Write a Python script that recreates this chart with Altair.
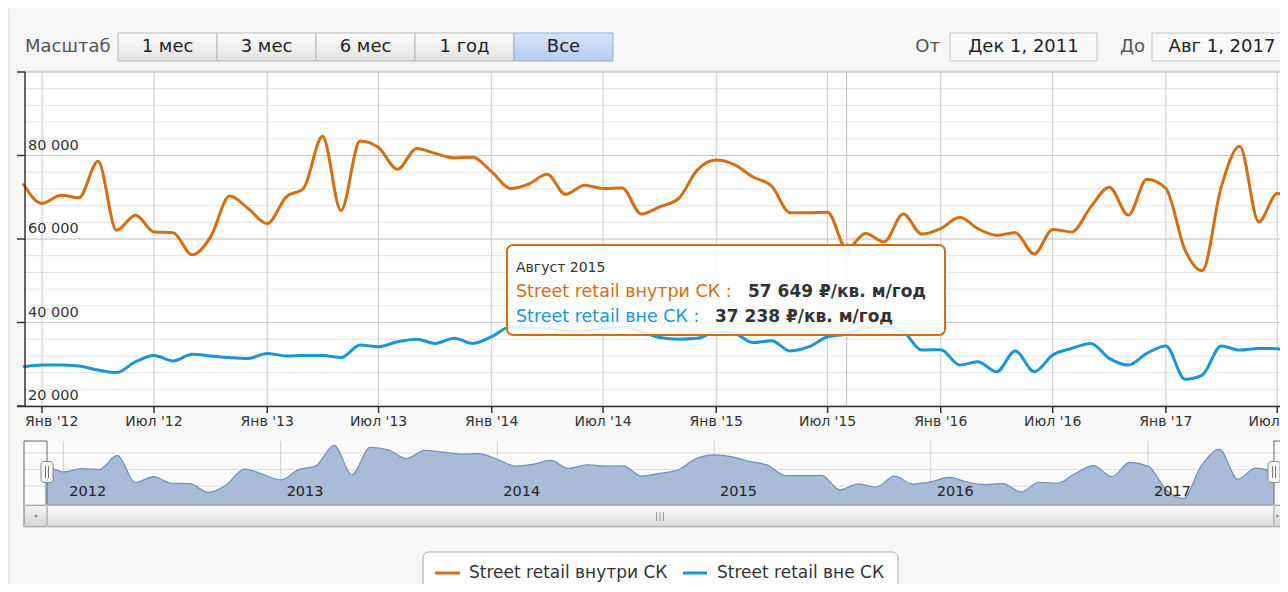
import altair as alt
import pandas as pd

# ---------------- data ----------------
series_names = ["Street retail внутри СК", "Street retail вне СК"]
months = pd.date_range("2011-12-01", "2017-08-01", freq="MS").strftime("%Y-%m-%d").tolist()

inside_sk = [73300, 68500, 70500, 69900, 78600, 62100, 65700, 61700, 61500, 56200,
             60500, 70300, 67300, 63700, 70100, 72100, 84600, 66800, 83500, 81900,
             76700, 81700, 80500, 79400, 79600, 76100, 72100, 73100, 75500, 70700,
             72900, 72100, 72200, 66000, 67700, 69700, 76500, 78900, 77700, 74900,
             72700, 66300, 66300, 66400, 57649, 61300, 59300, 66000, 61200, 62500,
             65200, 62500, 60900, 61500, 56400, 62300, 61700, 67700, 72400, 65700,
             74300, 72100, 57400, 52400, 72500, 82200, 64100, 70900, 68500]

outside_sk = [29400, 29800, 29800, 29600, 28600, 28000, 30600, 32100, 30800, 32400,
              32000, 31600, 31400, 32600, 32000, 32100, 32100, 31600, 34600, 34200,
              35400, 36000, 35000, 36200, 35000, 36600, 39000, 38600, 38600, 38000,
              38000, 38600, 39000, 37800, 36400, 36000, 36200, 37800, 37300, 35200,
              35600, 33200, 34200, 36600, 37238, 38700, 39000, 37800, 33400, 33500,
              29800, 30600, 28200, 33200, 28200, 32200, 33800, 35000, 31400, 29800,
              32600, 34400, 26400, 27400, 34400, 33400, 33800, 33700, 31500]

x_tick_dates = ["2012-01-01", "2012-07-01", "2013-01-01", "2013-07-01", "2014-01-01", "2014-07-01",
                "2015-01-01", "2015-07-01", "2016-01-01", "2016-07-01", "2017-01-01", "2017-07-01"]
x_tick_labels = ["Янв '12", "Июл '12", "Янв '13", "Июл '13", "Янв '14", "Июл '14",
                 "Янв '15", "Июл '15", "Янв '16", "Июл '16", "Янв '17", "Июл '17"]
y_tick_values = [20000, 40000, 60000, 80000]
y_tick_labels = ["20 000", "40 000", "60 000", "80 000"]
nav_years = ["2012", "2013", "2014", "2015", "2016", "2017"]
nav_grid_values = [60000, 70000, 80000]
range_buttons = ["1 мес", "3 мес", "6 мес", "1 год", "Все"]
selected_button = "Все"
date_from, date_to = "Дек 1, 2011", "Авг 1, 2017"
hover_index = 44
hover_label = "Август 2015"
unit = "₽/кв. м/год"

# ---------------- style ----------------
ORANGE = "#d36f12"
BLUE = "#1a96d6"
BG = "#f7f7f7"
TXT = "#333333"
FONT = "DejaVu Sans"
UI = 18
W, H = 1272, 576   # whole chart: page x 8..1280, page y 8..584

def P(x):  # page x -> chart x
    return x - 8

def Q(y):  # page y -> chart y
    return y - 8

ONE = pd.DataFrame({"k": [0]})

def box(x0, x1, y0, y1, **kw):
    return alt.Chart(ONE).mark_rect(**kw).encode(
        x=alt.value(P(x0)), x2=alt.value(P(x1)), y=alt.value(Q(y0)), y2=alt.value(Q(y1)))

def hline(x0, x1, y, color, w=1):
    return alt.Chart(ONE).mark_rule(color=color, strokeWidth=w).encode(
        x=alt.value(P(x0)), x2=alt.value(P(x1)), y=alt.value(Q(y)))

def vline(x, y0, y1, color, w=1):
    return alt.Chart(ONE).mark_rule(color=color, strokeWidth=w).encode(
        x=alt.value(P(x)), y=alt.value(Q(y0)), y2=alt.value(Q(y1)))

def label(x, y, text, size=15, color=TXT, align="left", weight="normal", font=FONT):
    return alt.Chart(ONE).mark_text(text=text, fontSize=size, color=color, align=align,
                                    baseline="middle", fontWeight=weight, font=font).encode(
        x=alt.value(P(x)), y=alt.value(Q(y)))

def vgrad(c0, c1):
    return alt.Gradient(gradient="linear", x1=0, x2=0, y1=0, y2=1,
                        stops=[alt.GradientStop(color=c0, offset=0), alt.GradientStop(color=c1, offset=1)])

NAV_MIN, NAV_MAX = 48500, 87300
# main plot: Dec 1 2011 sits at page x 23; the chart's right edge (page 1280) is ~Jul 5 2017
DOM_MAIN = [alt.DateTime(year=2011, month=12, date=1, utc=True),
            alt.DateTime(year=2017, month=7, date=5, hours=12, utc=True)]
DOM_NAV = [alt.DateTime(year=2011, month=12, date=1, utc=True),
           alt.DateTime(year=2017, month=8, date=1, utc=True)]
X_MAIN = alt.Scale(type="utc", domain=DOM_MAIN, range=[P(23.0), P(1280)])
Y_MAIN = alt.Scale(domain=[20000, 100000], range=[Q(406), Q(72)], zero=False, nice=False)
X_NAV = alt.Scale(type="utc", domain=DOM_NAV, range=[P(44.9), P(1274)])
Y_NAV = alt.Scale(domain=[NAV_MIN, NAV_MAX], range=[Q(505), Q(441)], zero=False, nice=False)

df = pd.DataFrame({
    "date": months * 2,
    "value": inside_sk + outside_sk,
    "series": [series_names[0]] * len(months) + [series_names[1]] * len(months),
})
df_in = pd.DataFrame({"date": months, "value": inside_sk, "base": NAV_MIN})
xt = pd.DataFrame({"date": x_tick_dates, "label": x_tick_labels})
yt = pd.DataFrame({"value": y_tick_values, "label": y_tick_labels})
ymaj = pd.DataFrame({"value": y_tick_values + [100000]})
ymin = pd.DataFrame({"value": list(range(20000, 100001, 4000))})
navy = pd.DataFrame({"value": nav_grid_values})
navx = pd.DataFrame({"date": [f"{y}-01-01" for y in nav_years], "label": nav_years})
hover = pd.DataFrame({"date": [months[hover_index]], "value": [inside_sk[hover_index]]})

XM = lambda: alt.X("date:T", scale=X_MAIN, axis=None)
XN = lambda: alt.X("date:T", scale=X_NAV, axis=None)

layers = []

# container border
layers.append(vline(9, 9, 600, "#d8d8d8"))

# ---------------- range selector ----------------
layers.append(label(25, 47, "Масштаб", size=UI, color="#555555"))
for i, b in enumerate(range_buttons):
    x0 = 118 + 99 * i
    sel = b == selected_button
    layers.append(box(x0, x0 + 99, 33, 61,
                      fill=vgrad("#d6e5f9", "#b3ccee") if sel else vgrad("#fdfdfd", "#e2e2e2"),
                      stroke="#8eb0df" if sel else "#b7b7b7", strokeWidth=1))
    layers.append(label(x0 + 49.5, 47, b, size=UI, color="#222222", align="center"))
layers.append(label(940, 47, "От", size=UI, color="#555555", align="right"))
layers.append(box(950, 1097, 33, 61, fill="#f9f9f9", stroke="#c4c4c4", strokeWidth=1))
layers.append(label(1023.5, 47, date_from, size=UI, color="#222222", align="center"))
layers.append(label(1145, 47, "До", size=UI, color="#555555", align="right"))
layers.append(box(1152, 1300, 33, 61, fill="#f9f9f9", stroke="#c4c4c4", strokeWidth=1))
layers.append(label(1222, 47, date_to, size=UI, color="#222222", align="center"))

# ---------------- main plot ----------------
layers.append(box(24, 1300, 72, 406, fill="#ffffff"))
layers.append(alt.Chart(ymin).mark_rule(color="#e4e4e4", strokeWidth=1).encode(
    y=alt.Y("value:Q", scale=Y_MAIN, axis=None), x=alt.value(P(25)), x2=alt.value(P(1300))))
layers.append(alt.Chart(ymaj).mark_rule(color="#c9c9c9", strokeWidth=1).encode(
    y=alt.Y("value:Q", scale=Y_MAIN, axis=None), x=alt.value(P(25)), x2=alt.value(P(1300))))
layers.append(alt.Chart(xt).mark_rule(color="#c9c9c9", strokeWidth=1).encode(
    x=XM(), y=alt.value(Q(72)), y2=alt.value(Q(406))))
layers.append(hline(24, 1300, 71.5, "#d2d2d2", 2))
# crosshair
layers.append(alt.Chart(hover).mark_rule(color="#bdbdbd", strokeWidth=1).encode(
    x=XM(), y=alt.value(Q(72)), y2=alt.value(Q(406))))
# series
layers.append(alt.Chart(df).mark_line(strokeWidth=3, interpolate="monotone").encode(
    x=XM(), y=alt.Y("value:Q", scale=Y_MAIN, axis=None),
    color=alt.Color("series:N", scale=alt.Scale(domain=series_names, range=[ORANGE, BLUE]), legend=None),
    detail="series:N"))
layers.append(alt.Chart(hover).mark_circle(size=150, color=ORANGE, opacity=0.28).encode(
    x=XM(), y=alt.Y("value:Q", scale=Y_MAIN, axis=None)))
# axes
layers.append(vline(25, 72, 406, "#333333", 1.5))
layers.append(alt.Chart(ymaj).mark_rule(color="#333333", strokeWidth=1.5).encode(
    y=alt.Y("value:Q", scale=Y_MAIN, axis=None), x=alt.value(P(17)), x2=alt.value(P(25))))
layers.append(hline(17, 1300, 406.5, "#333333", 1.5))
layers.append(alt.Chart(xt).mark_rule(color="#333333", strokeWidth=1.5).encode(
    x=XM(), y=alt.value(Q(406)), y2=alt.value(Q(413))))
layers.append(alt.Chart(yt).mark_text(font=FONT, fontSize=14.5, color=TXT, align="left",
                                      baseline="middle", dy=-10).encode(
    y=alt.Y("value:Q", scale=Y_MAIN, axis=None), x=alt.value(P(28)), text="label:N"))
layers.append(alt.Chart(xt.iloc[:1]).mark_text(font=FONT, fontSize=14, color=TXT, align="left",
                                               baseline="middle", dx=-17).encode(
    x=XM(), y=alt.value(Q(421.5)), text="label:N"))
layers.append(alt.Chart(xt.iloc[1:]).mark_text(font=FONT, fontSize=14, color=TXT, align="center",
                                               baseline="middle").encode(
    x=XM(), y=alt.value(Q(421.5)), text="label:N"))

# ---------------- tooltip ----------------
fmt = lambda v: f"{v:,}".replace(",", " ")
layers.append(box(507, 945, 245, 335, fill="#ffffff", fillOpacity=0.88, stroke=ORANGE,
                  strokeWidth=2, cornerRadius=6))
layers.append(label(516, 268, hover_label, size=14, color=TXT))
layers.append(label(516, 292, series_names[0] + " :", size=17.5, color=ORANGE))
layers.append(label(748, 292, f"{fmt(inside_sk[hover_index])} {unit}", size=17, color=TXT, weight="bold"))
layers.append(label(516, 317, series_names[1] + " :", size=17.5, color=BLUE))
layers.append(label(715, 317, f"{fmt(outside_sk[hover_index])} {unit}", size=17, color=TXT, weight="bold"))

# ---------------- navigator ----------------
layers.append(box(24, 1300, 441, 505, fill="#fbfbfb"))
layers.append(alt.Chart(navy).mark_rule(color="#dedede", strokeWidth=1).encode(
    y=alt.Y("value:Q", scale=Y_NAV, axis=None), x=alt.value(P(24)), x2=alt.value(P(1300))))
layers.append(alt.Chart(navx).mark_rule(color="#cfcfcf", strokeWidth=1).encode(
    x=XN(), y=alt.value(Q(441)), y2=alt.value(Q(505))))
layers.append(alt.Chart(df_in).mark_area(interpolate="monotone", color="#a9bcd7", opacity=1).encode(
    x=XN(), y=alt.Y("value:Q", scale=Y_NAV, axis=None), y2="base:Q"))
layers.append(alt.Chart(df_in).mark_line(interpolate="monotone", color="#6d8fbf", strokeWidth=1.2).encode(
    x=XN(), y=alt.Y("value:Q", scale=Y_NAV, axis=None)))
layers.append(alt.Chart(navx).mark_text(font=FONT, fontSize=14.5, color="#222222", align="left",
                                        baseline="middle", dx=6).encode(
    x=XN(), y=alt.value(Q(492)), text="label:N"))
# outline
OUT = "#666666"
layers.append(vline(24, 441, 527, OUT))
layers.append(hline(24, 47, 441, OUT))
layers.append(vline(47, 441, 527, OUT))
layers.append(hline(47, 1274, 505, OUT))
layers.append(vline(1274, 441, 527, OUT))
layers.append(hline(1274, 1300, 441, OUT))

# ---------------- scrollbar ----------------
layers.append(box(24, 1300, 505, 527, fill=vgrad("#f4f4f4", "#dedede"), stroke="#bdbdbd", strokeWidth=1))
layers.append(box(47, 1274, 505.5, 526.5, fill=vgrad("#fbfbfb", "#d9d9d9"), stroke="#b3b3b3",
                  strokeWidth=1, cornerRadius=2))
layers.append(box(24.5, 47, 505.5, 526.5, fill=vgrad("#f6f6f6", "#d6d6d6"), stroke="#a8a8a8",
                  strokeWidth=1, cornerRadius=3))
layers.append(box(1274, 1296, 505.5, 526.5, fill=vgrad("#f6f6f6", "#d6d6d6"), stroke="#a8a8a8",
                  strokeWidth=1, cornerRadius=3))
layers.append(alt.Chart(ONE).mark_point(shape="triangle-left", filled=True, size=14, color="#555555").encode(
    x=alt.value(P(35.5)), y=alt.value(Q(516))))
layers.append(alt.Chart(ONE).mark_point(shape="triangle-right", filled=True, size=12, color="#555555").encode(
    x=alt.value(P(1278)), y=alt.value(Q(516))))
for gx in (656.5, 660, 663.5):
    layers.append(vline(gx, 512, 521, "#9a9a9a"))

# handles
for hx in (47, 1274):
    layers.append(box(hx - 6, hx + 6, 461.5, 482.5, fill="#f6f6f6", stroke="#8a8a8a",
                      strokeWidth=1, cornerRadius=3))
    layers.append(vline(hx - 1.5, 466, 478, "#777777"))
    layers.append(vline(hx + 1.5, 466, 478, "#777777"))

# ---------------- legend ----------------
layers.append(box(423, 898, 552, 610, fill="#ffffff", stroke="#a9a9a9", strokeWidth=1, cornerRadius=6))
layers.append(hline(435, 460, 573, ORANGE, 3))
layers.append(label(469, 573, series_names[0], size=17, color=TXT))
layers.append(hline(683, 707, 573, BLUE, 3))
layers.append(label(717, 573, series_names[1], size=17, color=TXT))

chart = alt.layer(*layers).resolve_scale(x="independent", y="independent", color="independent").properties(
    width=W, height=H, padding=0, background=BG,
    autosize=alt.AutoSizeParams(type="none"),
).configure_view(strokeWidth=0)

chart.save("out.html", embed_options={"renderer": "svg", "actions": False})
